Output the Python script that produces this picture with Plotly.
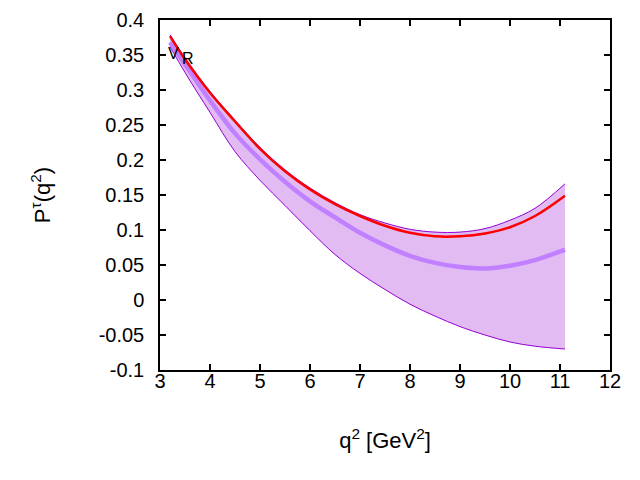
import plotly.graph_objects as go

q2 = [3.2, 3.5, 4.0, 4.5, 5.0, 5.5, 6.0, 6.5, 7.0, 7.5, 8.0, 8.5, 9.0, 9.5, 10.0, 10.5, 11.1]
upper = [0.379, 0.346, 0.298, 0.257, 0.218, 0.186, 0.160, 0.139, 0.122, 0.110, 0.101, 0.097, 0.097, 0.102, 0.114, 0.131, 0.166]
lower = [0.362, 0.325, 0.268, 0.212, 0.171, 0.135, 0.099, 0.065, 0.038, 0.015, -0.006, -0.023, -0.038, -0.050, -0.060, -0.066, -0.070]
central = [0.368, 0.337, 0.285, 0.238, 0.201, 0.169, 0.141, 0.118, 0.096, 0.078, 0.063, 0.053, 0.047, 0.045, 0.049, 0.057, 0.072]
red = [0.377, 0.344, 0.296, 0.255, 0.216, 0.184, 0.158, 0.137, 0.120, 0.106, 0.096, 0.091, 0.091, 0.095, 0.104, 0.120, 0.149]

x_ticks = [3, 4, 5, 6, 7, 8, 9, 10, 11, 12]
y_ticks = [-0.1, -0.05, 0, 0.05, 0.1, 0.15, 0.2, 0.25, 0.3, 0.35, 0.4]
y_labels = ["-0.1", "-0.05", "0", "0.05", "0.1", "0.15", "0.2", "0.25", "0.3", "0.35", "0.4"]

FONT = "Liberation Sans, Arial, Helvetica, sans-serif"

fig = go.Figure()
fig.add_trace(go.Scatter(x=q2, y=lower, mode="lines", line=dict(color="#9400d3", width=1, shape="spline"),
                         showlegend=False, hoverinfo="skip"))
fig.add_trace(go.Scatter(x=q2, y=upper, mode="lines", line=dict(color="#9400d3", width=1, shape="spline"),
                         fill="tonexty", fillcolor="#e2bbf2", showlegend=False))
fig.add_trace(go.Scatter(x=q2, y=central, mode="lines", line=dict(color="#c080ff", width=4.5, shape="spline"),
                         showlegend=False))
fig.add_trace(go.Scatter(x=q2, y=red, mode="lines", line=dict(color="#ff0000", width=2.5, shape="spline"),
                         showlegend=False))

fig.add_annotation(x=3.26, y=0.352, text="V", showarrow=False, xanchor="center", yanchor="middle",
                   font=dict(size=16, color="black", family=FONT))
fig.add_annotation(x=3.56, y=0.345, text="R", showarrow=False, xanchor="center", yanchor="middle",
                   font=dict(size=16, color="black", family=FONT))

axis_common = dict(showgrid=False, zeroline=False, showline=True, linecolor="black", linewidth=1.5,
                   mirror="allticks", ticks="inside", ticklen=6, tickwidth=1.5, tickcolor="black",
                   automargin=False,
                   tickfont=dict(size=20, color="black", family=FONT))

fig.update_xaxes(range=[3, 12], tickvals=x_ticks, ticktext=[str(t) for t in x_ticks],
                 title=dict(text="q<sup>2</sup> [GeV<sup>2</sup>]", standoff=42,
                            font=dict(size=22, color="black", family=FONT)),
                 ticklabelstandoff=-8, **axis_common)
fig.update_yaxes(range=[-0.1, 0.4], tickvals=y_ticks, ticktext=y_labels,
                 title=dict(text="P<sup>τ</sup>(q<sup>2</sup>)", standoff=42,
                            font=dict(size=22, color="black", family=FONT)),
                 ticklabelstandoff=10, **axis_common)

fig.update_layout(width=640, height=480, margin=dict(l=152, r=38, t=12, b=118, autoexpand=False),
                  plot_bgcolor="white", paper_bgcolor="white")

fig.write_html("out.html")
